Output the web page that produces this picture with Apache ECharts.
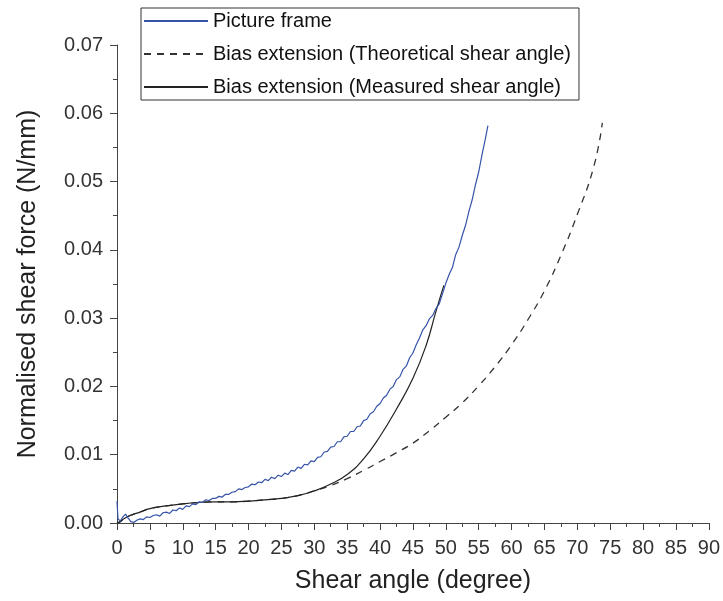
<!DOCTYPE html>
<html>
<head>
<meta charset="utf-8">
<script src="https://cdn.jsdelivr.net/npm/echarts@6/dist/echarts.min.js"></script>
<style>
  html, body { margin: 0; padding: 0; background: #fff; }
  #chart { width: 723px; height: 601px; }
</style>
</head>
<body>
<div id="chart"></div>
<script>
// [shear angle (deg), normalised shear force (N/mm)]
const pictureFrame = [
  [0, 0.0032], [0.15, 0.0006], [0.5, 0.0003], [0.9, 0.0009], [1.3, 0.0013], [1.7, 0.0007],
  [2.1, 0.0002], [2.6, 0.0001], [3.0, 0.0004], [3.5, 0.0006], [4.0, 0.0005], [4.5, 0.0009],
  [5.0, 0.0008], [5.5, 0.0011], [6.0, 0.0012], [6.5, 0.0010], [7.0, 0.0015], [7.5, 0.0016],
  [8.0, 0.0014], [8.5, 0.0019], [9.0, 0.0018], [9.5, 0.0022], [10, 0.0020], [10.5, 0.0025],
  [11, 0.0024], [11.5, 0.0028], [12, 0.0027], [12.5, 0.0031], [13, 0.0030], [13.5, 0.0034],
  [14, 0.0033], [14.5, 0.0036], [15, 0.0036], [15.5, 0.0039], [16, 0.0038], [16.5, 0.0042],
  [17, 0.0042], [17.5, 0.0045], [18, 0.0046], [18.5, 0.0050], [19, 0.0049], [19.5, 0.0052],
  [20, 0.0053], [20.5, 0.0057], [21, 0.0056], [21.5, 0.0060], [22, 0.0059], [22.5, 0.0064],
  [23, 0.0062], [23.5, 0.0067], [24, 0.0065], [24.5, 0.0070], [25, 0.0068], [25.5, 0.0073],
  [26, 0.0071], [26.5, 0.0077], [27, 0.0076], [27.5, 0.0082], [28, 0.0080], [28.5, 0.0086],
  [29, 0.0085], [29.5, 0.0091], [30, 0.0090], [30.5, 0.0096], [31, 0.0097], [31.5, 0.0104],
  [32, 0.0105], [32.5, 0.0111], [33, 0.0112], [33.5, 0.0119], [34, 0.0119], [34.5, 0.0126],
  [35, 0.0127], [35.5, 0.0134], [36, 0.0134], [36.5, 0.0141], [37, 0.0142], [37.5, 0.0150],
  [38, 0.0152], [38.5, 0.0160], [39, 0.0163], [39.5, 0.0171], [40, 0.0175], [40.5, 0.0183],
  [41, 0.0187], [41.5, 0.0196], [42, 0.0200], [42.5, 0.0210], [43, 0.0214], [43.5, 0.0225],
  [44, 0.0230], [44.5, 0.0242], [45, 0.0249], [45.5, 0.0261], [46, 0.0271], [46.5, 0.0283],
  [47, 0.0289], [47.5, 0.0299], [48, 0.0304], [48.5, 0.0314], [49, 0.0321], [49.5, 0.0336],
  [50, 0.0351], [50.5, 0.0364], [51, 0.0374], [51.5, 0.0393], [52, 0.0404], [52.5, 0.0421],
  [53, 0.0436], [53.5, 0.0456], [54, 0.0473], [54.5, 0.0495], [55, 0.0514], [55.5, 0.0539],
  [56, 0.0562], [56.4, 0.0582]
];

const biasTheoretical = [
  [0, 0], [0.5, 0.0002], [1, 0.0006], [2, 0.0011], [3.5, 0.0016], [5, 0.0021], [7.5, 0.0025],
  [10, 0.0028], [12.5, 0.0030], [15, 0.0031], [17.5, 0.0031], [20, 0.0032], [22.5, 0.0034],
  [25, 0.0036], [27.5, 0.0040], [30, 0.0047], [32.5, 0.0055], [35, 0.0065], [37.5, 0.0077],
  [40, 0.0090], [42.5, 0.0103], [45, 0.0117], [47.5, 0.0135], [50, 0.0155], [52.5, 0.0176],
  [55, 0.0201], [57.5, 0.0229], [60, 0.0261], [62.5, 0.0298], [65, 0.0340], [67.5, 0.0392],
  [70, 0.0452], [72.5, 0.0522], [73.8, 0.0586]
];

const biasMeasured = [
  [0, 0], [0.5, 0.0002], [1, 0.0006], [2, 0.0011], [3.5, 0.0016], [5, 0.0021], [7.5, 0.0025],
  [10, 0.0028], [12.5, 0.0030], [15, 0.0031], [17.5, 0.0031], [20, 0.0032], [22.5, 0.0034],
  [25, 0.0036], [27.5, 0.0040], [30, 0.0047], [32.5, 0.0057], [35, 0.0071], [37.5, 0.0094],
  [40, 0.0127], [42.5, 0.0167], [45, 0.0212], [47, 0.0260], [48.5, 0.0310], [49.7, 0.0348]
];

const seriesNames = [
  "Picture frame",
  "Bias extension (Theoretical shear angle)",
  "Bias extension (Measured shear angle)"
];

const xTicks = { min: 0, max: 90, interval: 5 };
const yTicks = { min: 0, max: 0.07, interval: 0.01 };

let myChart = echarts.init(document.getElementById("chart"));

let axisText = {
  color: "#333",
  fontSize: 20,
  fontFamily: "Liberation Sans, Arial, sans-serif",
};

let nameText = {
  color: "#222",
  fontSize: 25,
  fontFamily: "Liberation Sans, Arial, sans-serif",
};

let option = {
  backgroundColor: "#fff",
  animation: false,
  grid: {
    left: 117,
    right: 11,
    top: 45,
    bottom: 78,
  },
  legend: {
    orient: "vertical",
    left: 141,
    top: 8,
    padding: [3, 8, 3, 2],
    itemWidth: 64,
    itemHeight: 20,
    itemGap: 13,
    borderColor: "#333",
    borderWidth: 1,
    itemStyle: { opacity: 0 },
    textStyle: {
      color: "#111",
      fontSize: 20,
      fontFamily: "Liberation Sans, Arial, sans-serif",
    },
    data: seriesNames,
  },
  xAxis: {
    type: "value",
    min: xTicks.min,
    max: xTicks.max,
    interval: xTicks.interval,
    name: "Shear angle (degree)",
    nameLocation: "middle",
    nameGap: 46,
    nameTextStyle: nameText,
    axisLine: { show: true, onZero: false, lineStyle: { color: "#444", width: 1 } },
    axisTick: { show: true, length: 7, lineStyle: { color: "#444" } },
    minorTick: { show: true, splitNumber: 2, length: 4, lineStyle: { color: "#444" } },
    splitLine: { show: false },
    axisLabel: Object.assign({ margin: 15 }, axisText),
  },
  yAxis: {
    type: "value",
    min: yTicks.min,
    max: yTicks.max,
    interval: yTicks.interval,
    name: "Normalised shear force (N/mm)",
    nameLocation: "middle",
    nameGap: 76,
    nameTextStyle: nameText,
    axisLine: { show: true, lineStyle: { color: "#444", width: 1 } },
    axisTick: { show: true, length: 7, lineStyle: { color: "#444" } },
    minorTick: { show: true, splitNumber: 2, length: 4, lineStyle: { color: "#444" } },
    splitLine: { show: false },
    axisLabel: Object.assign(
      {
        margin: 14,
        formatter: (v) => v.toFixed(2),
      },
      axisText
    ),
  },
  series: [
    {
      name: seriesNames[1],
      type: "line",
      symbol: "none",
      smooth: true,
      data: biasTheoretical,
      lineStyle: { color: "#333", width: 1.3, type: [7, 6] },
      itemStyle: { color: "#333" },
    },
    {
      name: seriesNames[2],
      type: "line",
      symbol: "none",
      smooth: true,
      data: biasMeasured,
      lineStyle: { color: "#222", width: 1.2 },
      itemStyle: { color: "#222" },
    },
    {
      name: seriesNames[0],
      type: "line",
      symbol: "none",
      data: pictureFrame,
      lineStyle: { color: "#3553a8", width: 1.2 },
      itemStyle: { color: "#3553a8" },
    },
  ],
};

myChart.setOption(option);
</script>
</body>
</html>
